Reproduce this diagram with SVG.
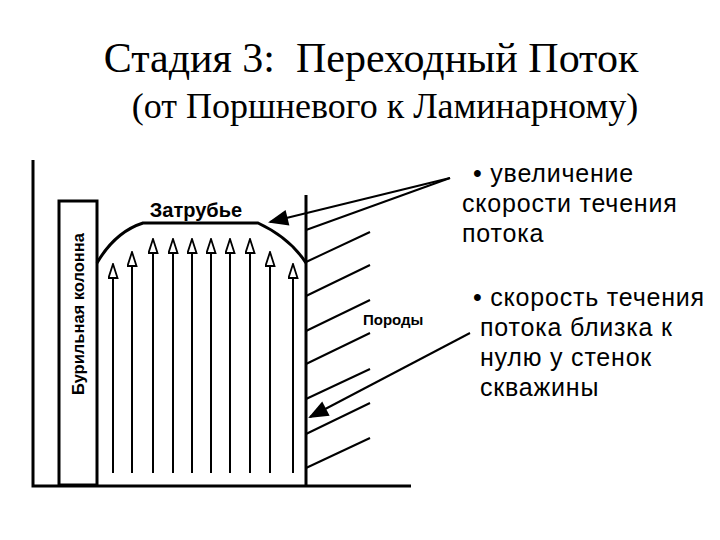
<svg xmlns="http://www.w3.org/2000/svg" width="720" height="540" viewBox="0 0 720 540">
<style>
.l{stroke:#000;fill:none;stroke-width:3}
.a{stroke:#000;stroke-width:2;fill:none}
.h{stroke:#000;stroke-width:2}
.s{font-family:"Liberation Serif",serif;fill:#000}
.t{font-family:"Liberation Sans",sans-serif;fill:#000}
</style>
<defs>
<marker id="up" viewBox="0 0 16 11" refX="15" refY="5.5" markerWidth="16" markerHeight="11" markerUnits="userSpaceOnUse" orient="auto"><path d="M15,5.5 L1,1 L1,10 Z" fill="#fff" stroke="#000" stroke-width="1.8"/></marker>
<marker id="ar" viewBox="0 0 10 10" refX="9" refY="5" markerWidth="12" markerHeight="10" orient="auto"><path d="M0,1 L10,5 L0,9 Z" fill="#000"/></marker>
</defs>
<g id="title">
<text class="s" x="371" y="72" font-size="42" text-anchor="middle" xml:space="preserve">Стадия 3:  Переходный Поток</text>
<text class="s" x="385" y="118" font-size="36" text-anchor="middle">(от Поршневого к Ламинарному)</text>
</g>
<g id="frame">
<path class="l" d="M33,160 V486 H411"/>
<path class="l" d="M306,195 V486"/>
</g>
<g id="column">
<rect x="59" y="201" width="38" height="284" class="l"/>
<text class="t" font-weight="bold" font-size="16.5" transform="translate(84,314) rotate(-90)" text-anchor="middle">Бурильная колонна</text>
</g>
<g id="annulus">
<path class="l" d="M97,263 Q115,232 143,223 H258 Q290,238 306,263"/>
<text class="t" x="196" y="217" font-size="20" font-weight="bold" text-anchor="middle">Затрубье</text>
</g>
<g id="flow">
<g class="a">
<line x1="113" y1="473" x2="113" y2="264" marker-end="url(#up)"/>
<line x1="132" y1="473" x2="132" y2="252" marker-end="url(#up)"/>
<line x1="153" y1="473" x2="153" y2="239" marker-end="url(#up)"/>
<line x1="173" y1="473" x2="173" y2="239" marker-end="url(#up)"/>
<line x1="192" y1="473" x2="192" y2="239" marker-end="url(#up)"/>
<line x1="211" y1="473" x2="211" y2="239" marker-end="url(#up)"/>
<line x1="230" y1="473" x2="230" y2="239" marker-end="url(#up)"/>
<line x1="250" y1="473" x2="250" y2="239" marker-end="url(#up)"/>
<line x1="270" y1="473" x2="270" y2="252" marker-end="url(#up)"/>
<line x1="293" y1="473" x2="293" y2="264" marker-end="url(#up)"/>
</g>
</g>
<g id="rock">
<g class="h">
<line x1="306" y1="230" x2="450" y2="178"/>
<line x1="306" y1="262" x2="370" y2="232"/>
<line x1="306" y1="296" x2="370" y2="265"/>
<line x1="306" y1="331" x2="370" y2="300"/>
<line x1="306" y1="364" x2="370" y2="333"/>
<line x1="306" y1="399" x2="370" y2="369"/>
<line x1="306" y1="434" x2="370" y2="403"/>
<line x1="306" y1="468" x2="370" y2="438"/>
</g>
<text class="t" x="363" y="325" font-size="15" font-weight="bold">Породы</text>
</g>
<g id="connectors">
<line class="h" x1="450" y1="178" x2="270" y2="222" marker-end="url(#ar)"/>
<line class="h" x1="470" y1="333" x2="310" y2="417" marker-end="url(#ar)"/>
</g>
<g id="notes" class="t" font-size="25" letter-spacing="0.8">
<text x="473" y="182">• увеличение</text>
<text x="462" y="212">скорости течения</text>
<text x="462" y="242">потока</text>
<text x="473" y="306">• скорость течения</text>
<text x="480" y="336">потока близка к</text>
<text x="480" y="366">нулю у стенок</text>
<text x="480" y="396">скважины</text>
</g>
</svg>
